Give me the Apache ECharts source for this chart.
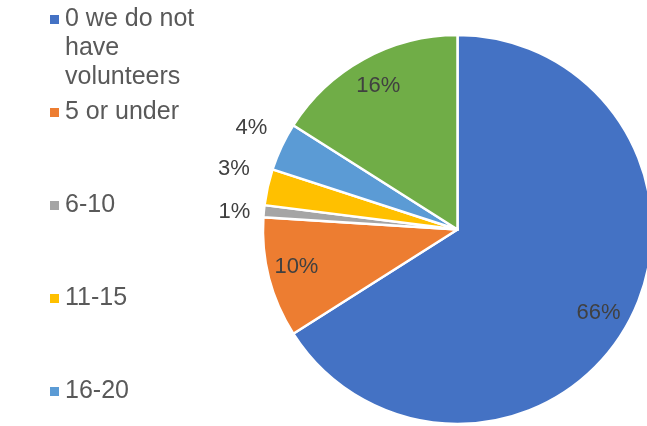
<!DOCTYPE html>
<html>
<head>
<meta charset="utf-8">
<script src="https://cdn.jsdelivr.net/npm/echarts@6/dist/echarts.min.js"></script>
<style>
html,body{margin:0;padding:0;background:#fff;}
#chart{width:647px;height:426px;}
</style>
</head>
<body>
<div id="chart"></div>
<script>
// ---- data ----
var categories = ['0 we do not have volunteers', '5 or under', '6-10', '11-15', '16-20', '21 or more'];
var values = [66, 10, 1, 3, 4, 16];
var legendFirst = ['0 we do not have volunteers'];
var legendRest = ['5 or under', '6-10', '11-15', '16-20'];

// ---- styles ----
var colors = ['#4472C4', '#ED7D31', '#A5A5A5', '#FFC000', '#5B9BD5', '#70AD47'];
var labelPlacement = ['in', 'in', 'out', 'out', 'out', 'in'];
var labelOffsets = [[-3, 4], [-2, -3], [5, 4], [0, -11], [1, -4], [0, 0]];
var FONT = "'Liberation Sans', Arial, sans-serif";
var center = [457.5, 229.5];
var R = 194.5;

var chart = echarts.init(document.getElementById('chart'), null, {renderer: 'canvas'});

function pct(p) { return Math.round(p.percent) + '%'; }

var mainData = categories.map(function (n, i) {
  return {name: n, value: values[i], itemStyle: {color: colors[i]}};
});
function overlayData(kind) {
  return categories.map(function (n, i) {
    return {
      name: n, value: values[i],
      itemStyle: {color: 'rgba(0,0,0,0)', borderWidth: 0},
      label: {show: labelPlacement[i] === kind, offset: labelOffsets[i]}
    };
  });
}
var overlayCommon = {
  type: 'pie', center: center, startAngle: 90, clockwise: true,
  silent: true, avoidLabelOverlap: false, tooltip: {show: false},
  emphasis: {disabled: true}, labelLine: {show: false},
  label: {position: 'inside', formatter: pct, color: '#404040', fontSize: 22, fontFamily: FONT}
};

var legendText = {color: '#595959', fontSize: 25, fontFamily: FONT, lineHeight: 29};

chart.setOption({
  animation: false,
  backgroundColor: '#ffffff',
  color: colors,
  legend: [
    {
      orient: 'vertical', left: 48, top: -53, padding: 0,
      itemWidth: 11, itemHeight: 11, itemGap: 64, icon: 'rect',
      data: legendFirst,
      formatter: function (n) { return '\n\n0 we do not\nhave\nvolunteers'; },
      textStyle: legendText,
      selectedMode: false
    },
    {
      orient: 'vertical', left: 48, top: 98, padding: 0,
      itemWidth: 11, itemHeight: 11, itemGap: 64, icon: 'rect',
      data: legendRest,
      textStyle: legendText,
      selectedMode: false
    }
  ],
  series: [
    {
      type: 'pie', center: center, radius: [0, R], startAngle: 90, clockwise: true,
      data: mainData, silent: true,
      itemStyle: {borderColor: '#ffffff', borderWidth: 2.5},
      label: {show: false}, labelLine: {show: false},
      emphasis: {disabled: true}
    },
    Object.assign({}, overlayCommon, {radius: [128, R], data: overlayData('in')}),
    Object.assign({}, overlayCommon, {radius: [216, 236], data: overlayData('out')})
  ]
});
</script>
</body>
</html>
